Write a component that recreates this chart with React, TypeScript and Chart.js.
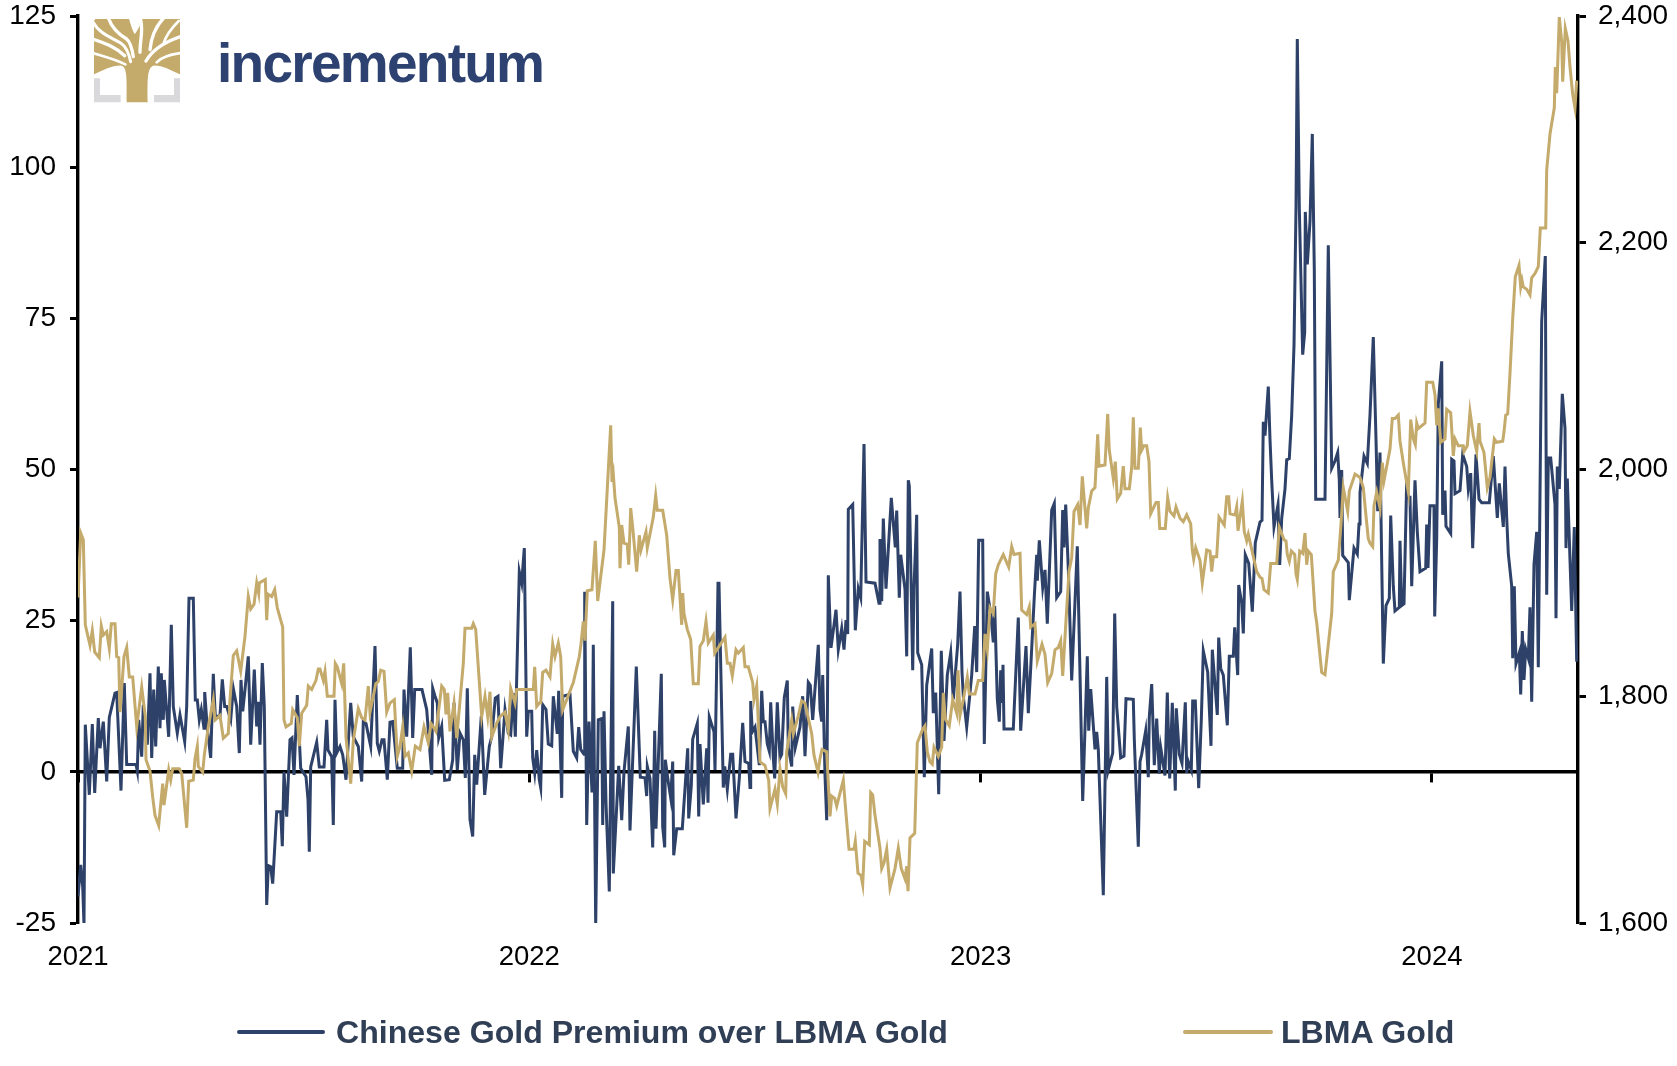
import React, { useEffect, useRef } from "react";
import { Chart, registerables } from "chart.js";

Chart.register(...registerables);

// Time is read in steps of the x axis: 451.3 steps make one calendar year, step 0 = 1 Jan 2021.
const STEPS_PER_YEAR = 451.3;
const FIRST_YEAR = 2021;
const LAST_STEP = 1500;

const tickYears = [2021, 2022, 2023, 2024];
const legendNames = ["Chinese Gold Premium over LBMA Gold", "LBMA Gold"];

// [step, premium USD/oz, step, premium, ...]
const premiumPart1 = [
  0,-20.6, 2.7,-15.4, 4.7,-19, 6,-25.3, 7.3,7.8, 11.3,-3.8, 14.3,7.9, 16.7,-3.5, 20.3,8.9, 22,3.9, 25.3,8.3, 28.7,-1.6, 31.3,9, 37,13, 38.7,13.1, 40.7,5.6, 43,-3.1, 46.3,14.7, 48.7,1.2, 58,1.2, 59.3,0.1, 60.7,8.6, 63.7,2.5, 65.3,11.1, 69.3,4.5, 72,16.3, 73.7,2.3, 75.7,13.6, 77.7,4.2, 80.3,17.4, 82,7.2, 83.3,16.3, 85.3,8.6, 86.3,15.2, 90.7,5.8, 93.3,24.3, 95.3,10.8, 99.3,6.4, 102,9.4, 106.7,5, 108.7,10.8, 111,28.7, 115.3,28.7, 117.3,11.9, 119.3,11.9, 121.3,8.6, 123.3,10.3, 126,7.2, 126.7,13.2, 129.3,7.2, 132.7,2.3, 135.3,16.2, 137.3,9.2, 142,9.2, 144.3,15.3, 146.7,10.8, 148.7,10.8, 152.7,8.6, 155.3,13.8, 158.7,10.8, 161.3,3.1, 163,15.2, 164.7,10, 167,13.6, 170.3,19.1, 172.7,4.5, 176.3,16.9, 178.7,7.5, 180.3,11.6, 182,4.5, 184.3,18, 186.3,10.8, 188.7,-22, 190.3,-15.5, 192.7,-15.7, 194.7,-18.5, 198.7,-6.6, 202.7,-6.6, 204.3,-12.3, 206,0, 208.7,-7.4, 212,5.3, 214,5.6, 216,-0.5, 219.3,12.7, 222.7,0.6, 228,-0.8, 230,-4.6, 231.3,-13.2, 232.7,0.8, 238.7,4.9, 241.3,0.8, 246,0.8, 248.7,8.6, 250,3.6, 253.7,2.5, 255.3,-8.8, 257,11.9, 258.7,3.1, 262,4.2, 264.7,2.8, 268,-1.3, 272.7,11.4, 275.3,5.8, 280.3,4.2, 283.7,-1.6, 285.3,8.3, 288,8, 292.7,4.2, 297,20.8, 299.3,4.7, 301.3,3.4, 304,5.3, 306,5.3, 309.3,-1.3, 312,8.2, 314.7,8.3, 319.3,0.6, 324.7,0.6, 326,13.6, 328.7,5.8, 332.3,20.6, 334.7,5.6, 336.7,13.6, 344,13.6, 348.7,10.3, 353.7,-0.5, 354.7,13.8, 357,12.5, 359.3,11.4, 360.7,5.6, 363.7,7.5, 366.7,-1.4, 371.3,-1.3, 374.7,2, 376,11.4, 379.3,0.3, 382,6.4, 385.3,5.3, 387.3,-1, 389.3,13.8, 392,-7.9, 394.7,-10.7, 396.7,2.8, 398.7,-2.1, 403.3,9.2, 406.7,-3.8, 411.3,4.2, 413.7,5.8, 417.3,12.2, 420,12.5, 422.7,0.6, 427,10.3, 430.3,6.4, 432.7,6.1, 435.3,13, 437.3,5.8, 441.3,33.1, 443.7,31.2, 446.3,37, 448.7,5.8, 450.3,10, 453.7,10, 454.7,2.3, 456.7,-0.2, 458.7,3.6, 461.3,-1.3,
];
const premiumPart2 = [
  462.7,-2.6, 464.7,11.1, 468,10.3, 470.3,4.6, 473.7,4.3, 475.3,12.5, 479.3,6.3, 480.7,13.4, 483.7,-4.3, 484.7,12.5, 492,12.8, 495.3,3.4, 498.7,2.3, 500.7,7.4, 502.7,3.7, 506,2.9, 506.7,29.8, 508.7,-8.8, 511,8.3, 514,-3.4, 515.3,21, 517.7,-25.4, 520.3,8.6, 523.7,8.8, 524.7,-8.8, 526,10, 528,-5.1, 531.3,-19.8, 534.7,28.2, 535.3,-16.8, 538.7,-5.7, 540.7,1, 543.7,-8, 546,0, 550.3,7.5, 552,-9.7, 558.3,17.4, 562.3,-0.9, 567,-1, 568.7,-4, 569.3,0.9, 572,-1.1, 574.7,-12.5, 576.7,6.8, 578,-9.4, 583.3,16.2, 584.7,-9.1, 586.7,-12.5, 587.3,2, 590.3,-1.7, 592.7,-4.3, 594.7,1.7, 595.7,-13.8, 598.7,-9.4, 604.3,-9.4, 609.7,3.9, 610.7,-7.7, 613.3,-2.3, 614.7,5.4, 619.3,8, 620.7,-7.4, 622,4.6, 625.3,-5.4, 628.7,3.9, 630,-5.1, 631.3,9.1, 636,6.6, 637,0.3, 640,31.2, 641,31.2, 645.3,-2.6, 646.7,0.9, 649.3,-2.9, 652.7,2.9, 654.7,2.9, 658,-7.7, 661.3,-1.1, 664.7,8.1, 667,1.7, 670.7,1.4, 672,-2.6, 672.7,11.7, 674.3,6.6, 677,7.4, 681.3,1.1, 683.7,13.4, 685.3,8.3, 687,8.3, 689.3,4.6, 691.3,3.4, 692.7,11.5, 695.3,2.3, 696.7,-1.1, 698,5.1, 699.3,11.5, 702,2.3, 703.7,2.9, 706.3,12.3, 709.3,15.1, 710.3,4, 713.7,0.9, 714.7,10.8, 717.3,4, 722,7.4, 724.7,12.5, 727,2.6, 730.3,14.8, 732.3,14.3, 734.7,8.6, 740.3,21, 742,10.3, 743.7,8.3, 744.7,16, 747,-0.6, 748.7,-8, 750.3,32.5, 753,20.5, 758,26.8, 760.3,20.2, 763.7,23.7, 766,20.2, 768,25.1, 769.7,22.8, 770.3,43.4, 774.7,44.2, 777.3,23.4, 780.3,30.3, 782.7,28.8, 786,54.2, 788,31.4, 797,31.2, 801,27.9, 802,38.5, 803.7,28.2, 805.3,41.9, 808,30.3, 813.3,45.3, 817.3,37.1, 818.7,43.2, 821.3,28.8, 822.7,35.9, 827,30.2, 828.7,19.1, 830.3,48.2, 831.3,47.3, 834.7,16.8, 836,30.5, 838.7,42.5, 839.7,19.7, 843.7,17.7, 846.3,-0.9, 848.7,14.3, 853.7,20.4, 855.3,9.7, 857.7,13.1, 860.7,-3.7, 863.3,20, 866,5.1, 869.3,16, 872.7,19.7, 875.3,12, 879.7,21.1, 882,29.8, 884,16.5, 885.3,12.5, 888.7,7.4, 893.7,16, 896.7,24.1, 898.7,16.5, 900.7,38.3, 904.7,38.3, 906.3,4.6, 909.3,29.8, 912.7,26.2, 915.3,21.4, 916.7,27.4, 919.3,12, 921.3,8.3, 922.7,16.8, 924,11.4, 925,17.7, 926,7.1,
];
const premiumPart3 = [
  935.3,7.1, 940.3,25.5, 942.7,6.8, 948,20.8, 950.3,9.7, 952.7,17.1, 956.3,29, 958.7,35.9, 959.3,31.6, 961.3,38.3, 964.7,30.5, 967,33.4, 969.3,24.5, 973.7,43.3, 976.3,44.4, 978.7,28.8, 982.7,29.8, 984.7,43.3, 986,37.1, 987.7,44.2, 990.3,33.6, 993.7,15.1, 999.3,37.3, 1004.7,-4.8, 1009.3,19.1, 1010.7,6.8, 1012.7,13.7, 1017,3.7, 1018.7,6.6, 1020.3,3.7, 1025.3,-20.4, 1028.7,15.7, 1030.3,0.3, 1034.7,3.1, 1036.7,26.2, 1038.7,10.8, 1042.7,2.3, 1046,2.6, 1048,12.1, 1055.3,12, 1056.3,5.4, 1060.3,-12.4, 1062,1.7, 1063.7,2.9, 1067.7,6.8, 1070.3,-0.9, 1071.3,9.1, 1073.7,14.5, 1076.3,1.1, 1078.7,8.8, 1081.3,-0.3, 1082.7,4, 1087,-0.6, 1089.3,13.1, 1091.7,-1.1, 1094.3,11.4, 1097.3,-3.1, 1098.3,10.5, 1101.3,2.9, 1104,1.4, 1107.3,11.5, 1108.7,-0.2, 1110.3,1.7, 1113.3,0.3, 1114.7,11.7, 1117.3,11.7, 1120.7,-2.7, 1123.3,8.6, 1125.3,20, 1129.7,16.5, 1133,4.3, 1134.3,20.2, 1139.3,9.4, 1140.7,22.2, 1142.7,17.1, 1145.3,16, 1149.3,7.7, 1151.3,19.1, 1155.3,19.1, 1156.7,23.9, 1159.7,16, 1160.7,30.9, 1163.7,27.9, 1165.3,22.9, 1167.3,35.9, 1170.7,34.5, 1174.3,26.5, 1177.3,37.9, 1182,41.3, 1184,41.6, 1185.3,57.9, 1187,55.6, 1190.3,63.7, 1192,55, 1193.7,48.2, 1196,40.5, 1200,44.2, 1201.7,34.2, 1203.7,41.9, 1207,46.8, 1208.7,51.6, 1211.3,51.8, 1213.7,59, 1216,70.5, 1218,93.3, 1219.3,121.2, 1221.3,93.3, 1224.7,69, 1226.7,72.7, 1227.3,92.6, 1229.3,83.9, 1232,91, 1234.3,105.5, 1236.3,83, 1237.7,45.1, 1247,45.1, 1250.3,87.1, 1253.7,50.2, 1257,51.4, 1259.7,52.8, 1261.3,48.2, 1262,42, 1263.7,49.9, 1264.7,35.8, 1270.3,34.6, 1271.3,28.4, 1276,37, 1279.3,36, 1281,41, 1282,46.2, 1286,52.2, 1289.3,51, 1292,59, 1295.3,71.9, 1298,55, 1299.7,43.1, 1302,52.8, 1305.3,17.9, 1308,27.5, 1311.3,28.7, 1312.7,42.4, 1315.3,30.7, 1317,26.6, 1321.3,27.2, 1322,38.2, 1323.7,27.5, 1326,27.8, 1328.7,48.2, 1330.3,45.4, 1332,45.4, 1333.7,30.7, 1337,48.2, 1339.3,39.7, 1342,33.1, 1347.7,33.7, 1348.7,40.9, 1350,33.7, 1352,44, 1356,44, 1356.7,25.7, 1358.7,38.5, 1360.3,60.8, 1363.7,67.9, 1364.7,42.5, 1367,46.5, 1368,40.6, 1372.7,39.4, 1373.7,51.7, 1376,51.4, 1377,46, 1382,46.5, 1384.7,52.5, 1388.7,50.5, 1390.3,46.8, 1392.7,49.4, 1394.7,37, 1398,52.5, 1401,45.1, 1403.7,44.5, 1411.3,44.5, 1415.3,52.2, 1419.3,42, 1421.3,47.7, 1425.3,40.5, 1427,50.5, 1428.7,42, 1430.3,36.1, 1433.7,30.7, 1434.7,18.8, 1436.3,30.7, 1438,17.9, 1441.3,19.7, 1442.7,12.8, 1444.3,23.3, 1446,15.2, 1447.7,20.3, 1450.3,18.8, 1452,27.2, 1453.7,11.6, 1456,34.3, 1458.7,39.7, 1460.3,17.3, 1463.7,74.5, 1467.3,85.3, 1468.7,29.3, 1470.3,51.9, 1472.7,51.9, 1477,44.2, 1478,25.4, 1479.3,50.5, 1481.3,46.8, 1484.3,62.5, 1487,56.8, 1488,37, 1489.3,48.5, 1493.7,26.6, 1496.3,40.5, 1498.7,18.2,
];

// [step, gold USD/oz, step, gold, ...]
const goldPart1 = [
  0,1887, 2.7,1944, 5.3,1938, 7.3,1863, 12,1845, 14.3,1858, 16.7,1839, 21.3,1834, 23.3,1862, 25.3,1854, 28.7,1857, 31.3,1842, 33.3,1864, 37,1864, 38.7,1835, 40.7,1834, 42,1786, 46,1835, 48.7,1843, 51.3,1817, 54.7,1817, 58.7,1773, 63.7,1808, 67.3,1782, 68,1744, 72,1734, 74.7,1711, 77,1695, 80.7,1686, 84.7,1723, 86,1704, 90.7,1735, 92.7,1726, 94.7,1736, 101.3,1736, 103.7,1732, 108.7,1684, 110.7,1725, 115.3,1726, 117,1745, 119.3,1756, 120.3,1738, 124.7,1733, 126.3,1748, 130.3,1773, 135.3,1797, 137,1779, 142,1783, 145.3,1763, 150.3,1767, 152,1797, 155.3,1836, 158.7,1840, 162.7,1822, 167,1853, 170.3,1888, 172.7,1877, 176,1881, 178.7,1900, 180.7,1891, 181.3,1900, 187.3,1903, 188.7,1867, 190,1890, 193.7,1888, 196.7,1894, 199.3,1878, 204.7,1861, 206,1779, 208,1773, 213.3,1776, 214.7,1788, 219.3,1781, 221.3,1756, 223.7,1785, 228.7,1792, 230.3,1809, 233.7,1806, 238,1814, 240.3,1824, 242,1824, 245.3,1814, 247,1822, 249.3,1800, 256,1800, 257.3,1829, 259.3,1826, 263.7,1811, 265.7,1829, 268,1764, 272.7,1723, 275.3,1761, 280.3,1789, 283.7,1781, 287,1779, 290.3,1809, 292,1786, 295.3,1800, 297.7,1811, 300.3,1813, 302.7,1823, 306,1822, 308.7,1786, 312,1794, 316.3,1797, 319.3,1747, 322,1756, 324.7,1773, 327,1747, 330.3,1750, 333.7,1734, 337.3,1756, 342,1753, 346,1773, 350.3,1759, 353,1776, 355.3,1773, 358,1769, 363.7,1809, 366.3,1806, 368,1784, 369.7,1803, 372,1769, 376,1794, 378.7,1763, 385.3,1829, 387,1860, 393.7,1860, 395.3,1864, 397.7,1859, 403.7,1782, 407,1800, 409.7,1782, 412,1804, 413.7,1764, 418.7,1776, 422,1782, 427,1786, 430.3,1770, 432.7,1807, 437,1794, 438.7,1806, 455.3,1806, 456.7,1826, 458.7,1791, 461.3,1794,
];
const goldPart2 = [
  462.7,1794, 464.7,1821, 468,1823, 472,1817, 474.7,1846, 477,1835, 480.3,1847, 482.7,1835, 484.7,1788, 491.3,1803, 495.3,1812, 498.7,1825, 501.3,1835, 503,1846, 505.3,1866, 507,1849, 509.3,1893, 514,1894, 517.3,1937, 519.7,1884, 526,1929, 532.7,2039, 534,1989, 535.3,1996, 537,1975, 541.3,1949, 542,1913, 543.7,1951, 546,1935, 549.3,1934, 550.7,1916, 552.7,1966, 554.7,1949, 558.7,1910, 561.3,1942, 563,1929, 568,1945, 569.3,1931, 575.3,1958, 577.7,1977, 579.3,1964, 584.7,1964, 588.7,1942, 592,1904, 594.7,1885, 598,1911, 600.3,1911, 603.7,1863, 604.7,1891, 606,1873, 609.3,1859, 612.7,1850, 615.3,1811, 620.3,1811, 622,1844, 625.3,1849, 628,1866, 630.3,1847, 635.3,1854, 636.7,1838, 647,1852, 649.3,1829, 652,1829, 654.3,1818, 658,1841, 660.3,1838, 665.3,1843, 667,1826, 670.3,1826, 674.7,1812, 676,1797, 678.7,1809, 682,1742, 687,1739, 690.7,1726, 692,1701, 697,1718, 699.3,1705, 702,1736, 704.7,1720, 707.7,1714, 708.7,1751, 713.7,1779, 715.3,1767, 720.3,1783, 723.7,1796, 727,1794, 733.7,1767, 736,1748, 740,1733, 742,1745, 744,1753, 748.7,1751, 752,1694, 753.7,1712, 756.7,1710, 758.7,1703, 765.3,1726, 767.3,1704, 771,1665, 776,1665, 777.3,1672, 780,1644, 783,1642, 784.7,1634, 786.7,1672, 791.3,1669, 792.7,1715, 794.7,1713, 797,1695, 802,1666, 803.7,1648, 806,1653, 808.7,1665, 812,1631, 817,1648, 820.3,1666, 823.3,1648, 827,1639, 828.7,1650, 830,1628, 832,1675, 836.7,1679, 839.3,1759, 844.7,1771, 847,1774, 849.3,1751, 852,1742, 854.3,1740, 856,1755, 860.3,1747, 863.7,1755, 865.3,1803, 867.3,1780, 871.3,1774, 874.7,1797, 878.7,1785, 880,1823, 882,1783, 885.3,1797, 889.3,1817, 891.3,1802, 897,1802, 900.3,1814, 904.7,1814, 907,1855, 909.3,1841, 912,1878, 915.3,1873, 917.7,1908, 920.3,1916, 925.3,1925, 930.7,1914,
];
const goldPart3 = [
  933.7,1932, 936,1925, 942,1926, 943.7,1876, 948.7,1872, 951.3,1879, 952.7,1861, 957,1864, 959.3,1831, 964,1846, 967,1837, 969.7,1812, 973.7,1820, 977,1841, 980.3,1843, 982.7,1849, 984.7,1818, 988,1867, 991,1910, 993.7,1922, 996,1963, 999.7,1969, 1002,1951, 1004.3,1994, 1008.7,1948, 1010.3,1966, 1013.7,1981, 1017,1984, 1019.7,2031, 1021,2003, 1027,2004, 1029.7,2049, 1031.3,2017, 1035.3,1992, 1037.3,2007, 1039.3,1974, 1042.7,1979, 1045.3,2003, 1047,1983, 1051.3,1983, 1053.7,2002, 1055.3,2046, 1057,2001, 1060.3,2001, 1062.3,2037, 1063.7,2017, 1066,2021, 1068.7,2021, 1071,2007, 1072.7,1961, 1078,1971, 1080.3,1971, 1081.7,1948, 1087.3,1948, 1089.7,1975, 1092,1963, 1096,1959, 1098,1967, 1102,1957, 1105.3,1954, 1108.7,1960, 1112.7,1952, 1114.3,1929, 1115.7,1921, 1117.7,1931, 1122,1920, 1124.3,1900, 1128.7,1929, 1132,1928, 1133.7,1910, 1135.3,1923, 1138.7,1923, 1141,1958, 1146.3,1951, 1148.7,1976, 1150.7,1976, 1152,1961, 1157,1960, 1158.7,1967, 1160,1946, 1164.3,1972, 1166.3,1945, 1168.7,1937, 1170.3,1943, 1178.7,1910, 1182,1905, 1184,1904, 1186,1894, 1190.3,1891, 1192.7,1917, 1198.7,1917, 1201.3,1949, 1206,1938, 1208,1937, 1209.3,1925, 1211.3,1919, 1213.3,1928, 1216.7,1925, 1218,1908, 1219.3,1903, 1221.7,1928, 1224.7,1926, 1227,1944, 1228.7,1916, 1230.3,1928, 1233.3,1925, 1237,1875, 1238.7,1865, 1243.7,1821, 1247,1819, 1253.7,1873, 1255.3,1910, 1260.3,1920, 1263,1952, 1265.3,1984, 1269.7,1963, 1271.3,1981, 1277,1996, 1282,1993, 1285.3,1984, 1288,1959, 1290.3,1939, 1292,1935, 1294.7,1932, 1296,1968, 1298.7,1980, 1302,1966, 1304.3,2006, 1306,1990, 1312,2018, 1314.3,2045, 1317,2045, 1320.3,2048, 1322,2025, 1325.3,2006, 1330.3,1980, 1332.7,2044, 1335.3,2027, 1337.3,2022, 1338.7,2041, 1340.3,2036, 1347,2041, 1348.7,2077, 1354.7,2077, 1357,2066, 1358.7,2039, 1360.3,2054, 1362.7,2024, 1367,2027, 1368.7,2053, 1372.7,2050, 1375.3,2012, 1377,2027, 1380.3,2021, 1385.3,2021, 1386,2016, 1389.3,2021, 1392,2051, 1395.3,2030, 1398.7,2016, 1401,2041, 1402,2025, 1406,2015, 1409.3,1984, 1412,1993, 1416.3,2027, 1418.7,2024, 1424.7,2025, 1426,2033, 1427.7,2048, 1429.7,2049, 1432,2085, 1434.7,2133, 1437.3,2170, 1441,2180, 1442.7,2161, 1444,2167, 1445.3,2161, 1448.7,2159, 1452,2154, 1453.7,2169, 1457,2173, 1460.3,2179, 1462.3,2213, 1467.7,2213, 1468.7,2264, 1472,2296, 1476.3,2319, 1477.3,2355, 1478.7,2332, 1481.3,2399, 1483.7,2377, 1484.7,2342, 1487.3,2389, 1490,2378, 1492,2355, 1494.7,2331, 1497,2319, 1498.7,2343,
];

const NAVY = "#2d4169";
const GOLD = "#c4aa6b";
const LEGEND_INK = "#303f55";
const AXIS_FONT = { family: "'Liberation Sans', Arial, sans-serif", size: 28 };
const YEAR_FONT = { family: "'Liberation Sans', Arial, sans-serif", size: 27.5 };

const stepToYear = (step: number) => FIRST_YEAR + step / STEPS_PER_YEAR;

const toPoints = (...parts: number[][]) => {
  const flat = parts.flat();
  const points: { x: number; y: number }[] = [];
  for (let i = 0; i + 1 < flat.length; i += 2) points.push({ x: stepToYear(flat[i]), y: flat[i + 1] });
  return points;
};

const noScalePadding = (scale: any) => {
  scale.paddingTop = 0;
  scale.paddingBottom = 0;
  scale.paddingLeft = 0;
  scale.paddingRight = 0;
};

function Logo() {
  const gaps: [string, number][] = [
    ["M55 8 C65 40 90 60 110 72 C122 82 126 100 130 125", 10],
    ["M8 20 C30 58 62 66 92 84 C108 94 116 112 122 140", 9],
    ["M8 72 C40 84 72 92 104 122", 10],
    ["M8 114 C40 124 72 132 106 148", 8],
    ["M150 8 C162 40 150 70 150 112", 10],
    ["M222 8 C196 35 184 62 180 104", 10],
    ["M266 18 C244 40 226 64 220 88", 8],
    ["M274 64 C232 78 190 100 168 138", 10],
    ["M274 114 C244 118 216 124 200 142", 8],
  ];
  return (
    <svg
      width={95}
      height={95}
      viewBox="0 0 285 285"
      style={{ position: "absolute", left: 90, top: 15 }}
    >
      <defs>
        <clipPath id="logo-box">
          <rect x={12} y={12} width={258} height={250} />
        </clipPath>
      </defs>
      <path d="M12 190 H30 V240 H92 V262 H12 Z M270 190 H252 V240 H192 V262 H270 Z" fill="#d9d8da" />
      <path
        d="M12 12 H270 V178 C240 165 215 150 190 152 C172 158 172 190 173 262 H110 C110 190 112 158 95 152 C70 150 40 165 12 178 Z"
        fill="#c4aa6b"
      />
      <g clipPath="url(#logo-box)" fill="none" stroke="#fff" strokeLinecap="round">
        {gaps.map(([d, w], i) => (
          <path key={i} d={d} strokeWidth={w} />
        ))}
        <path d="M116 8 C122 30 128 48 134 58 C142 48 152 30 158 8 Z" fill="#fff" stroke="none" />
        <path d="M8 8 H20 L8 22 Z" fill="#fff" stroke="none" />
      </g>
    </svg>
  );
}

export default function App() {
  const canvasRef = useRef<HTMLCanvasElement | null>(null);

  useEffect(() => {
    document.body.style.margin = "0";
    const xMax = stepToYear(LAST_STEP);
    const chart = new Chart(canvasRef.current as HTMLCanvasElement, {
      type: "line",
      data: {
        datasets: [
          {
            label: legendNames[1],
            data: toPoints(goldPart1, goldPart2, goldPart3),
            borderColor: GOLD,
            borderWidth: 3,
            pointRadius: 0,
            tension: 0,
            yAxisID: "y2",
            xAxisID: "x",
          },
          {
            label: legendNames[0],
            data: toPoints(premiumPart1, premiumPart2, premiumPart3),
            borderColor: NAVY,
            borderWidth: 3,
            pointRadius: 0,
            tension: 0,
            yAxisID: "y",
            xAxisID: "x",
            order: 1,
          },
        ],
      },
      options: {
        responsive: false,
        animation: false,
        parsing: false,
        normalized: true,
        layout: { autoPadding: false, padding: { top: 16, left: 0, right: 0, bottom: 0 } },
        plugins: { legend: { display: false }, tooltip: { enabled: false } },
        scales: {
          x: {
            type: "linear",
            position: "bottom",
            min: FIRST_YEAR,
            max: xMax,
            border: { display: false },
            grid: { display: false, drawTicks: false },
            afterBuildTicks: (scale: any) => {
              scale.ticks = tickYears.map((value) => ({ value }));
            },
            afterFit: (scale: any) => {
              scale.height = 143;
              noScalePadding(scale);
            },
            ticks: {
              includeBounds: false,
              autoSkip: false,
              maxRotation: 0,
              padding: 18,
              color: "#000",
              font: YEAR_FONT,
              callback: (value: any) => String(value),
            },
          },
          zeroLine: {
            type: "linear",
            axis: "x",
            position: { y: 0 },
            min: FIRST_YEAR,
            max: xMax,
            z: 1,
            border: { color: "#000", width: 3.4 },
            grid: { drawOnChartArea: false, drawTicks: true, tickLength: 9, tickWidth: 3, tickColor: "#000" },
            afterBuildTicks: (scale: any) => {
              scale.ticks = tickYears.map((value) => ({ value }));
            },
            afterFit: noScalePadding,
            ticks: { display: false, includeBounds: false },
          },
          y: {
            type: "linear",
            position: "left",
            min: -25,
            max: 125,
            afterFit: (scale: any) => {
              scale.width = 78;
              noScalePadding(scale);
            },
            border: { color: "#000", width: 3.4 },
            grid: { drawOnChartArea: false, tickLength: 8, tickWidth: 3, tickColor: "#000" },
            ticks: { stepSize: 25, padding: 14, color: "#000", font: AXIS_FONT },
          },
          y2: {
            type: "linear",
            position: "right",
            min: 1600,
            max: 2400,
            afterFit: (scale: any) => {
              scale.width = 99;
              noScalePadding(scale);
            },
            border: { color: "#000", width: 3.4 },
            grid: { drawOnChartArea: false, tickLength: 8, tickWidth: 3, tickColor: "#000" },
            ticks: {
              stepSize: 200,
              padding: 12,
              color: "#000",
              font: AXIS_FONT,
              callback: (value: any) => Number(value).toLocaleString("en-US"),
            },
          },
        },
      },
    } as any);
    return () => chart.destroy();
  }, []);

  const legendText: React.CSSProperties = {
    position: "absolute",
    top: 1012,
    fontFamily: "'Liberation Sans', Arial, sans-serif",
    fontWeight: 700,
    fontSize: 32.1,
    lineHeight: "40px",
    color: LEGEND_INK,
    whiteSpace: "nowrap",
  };
  const legendLine = (left: number, width: number, color: string): React.CSSProperties => ({
    position: "absolute",
    left,
    width,
    top: 1030,
    height: 4,
    background: color,
    borderRadius: 2,
  });

  return (
    <div style={{ position: "relative", width: 1677, height: 1066, overflow: "hidden", background: "#fff" }}>
      <canvas ref={canvasRef} width={1677} height={1066} style={{ display: "block" }} />
      <Logo />
      <svg width={400} height={80} style={{ position: "absolute", left: 200, top: 20 }}>
        <text
          x={17}
          y={62}
          textLength={328}
          lengthAdjust="spacing"
          fontFamily="'Liberation Sans', Arial, sans-serif"
          fontWeight={700}
          fontSize={55}
          fill="#2d4270"
        >
          incrementum
        </text>
      </svg>
      <div style={legendLine(237, 88, NAVY)} />
      <span style={{ ...legendText, left: 336 }}>{legendNames[0]}</span>
      <div style={legendLine(1183, 90, GOLD)} />
      <span style={{ ...legendText, left: 1281 }}>{legendNames[1]}</span>
    </div>
  );
}
